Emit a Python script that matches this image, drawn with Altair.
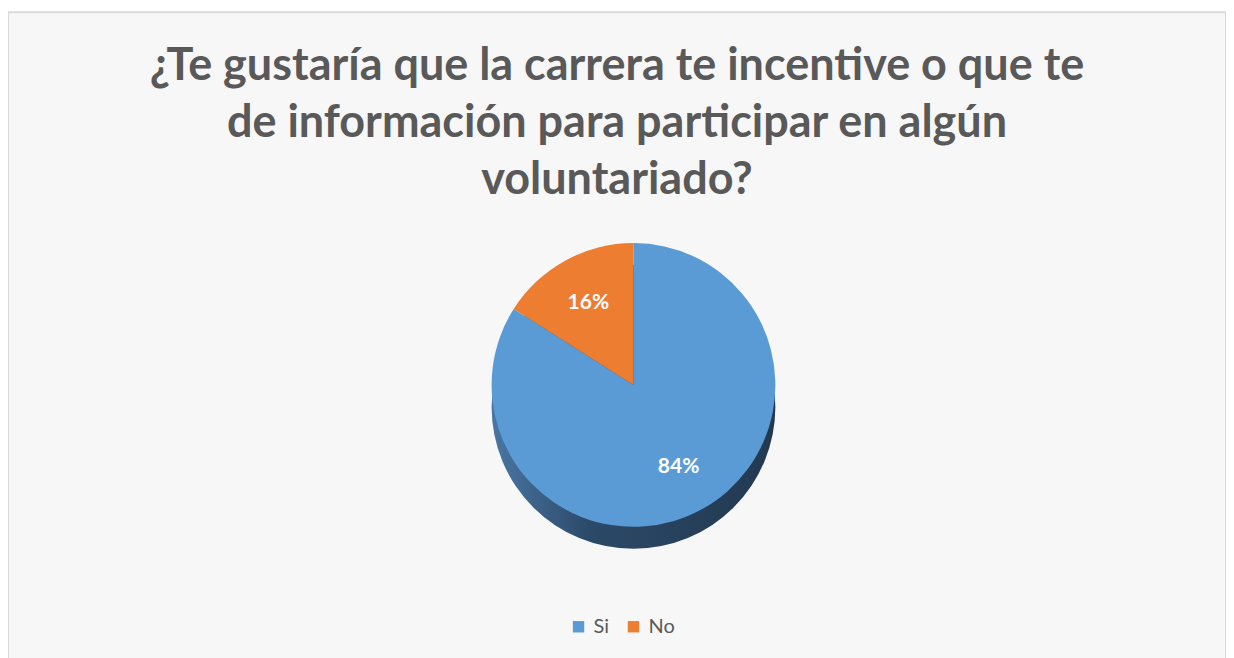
import altair as alt
import pandas as pd

categories = ["Si", "No"]
values = [84, 16]
labels = ["84%", "16%"]
colors = ["#5b9bd5", "#ed7d31"]
title_lines = [
    "¿Te gustaría que la carrera te incentive o que te",
    "de información para participar en algún",
    "voluntariado?",
]

df = pd.DataFrame({"cat": categories, "val": values, "label": labels,
                   "order": list(range(len(categories)))})

base = alt.Chart(df)
CX, CY, R, DEPTH = 626, 373, 142, 22

side_grad = alt.Gradient(
    gradient="linear",
    stops=[alt.GradientStop(color="#4a76a4", offset=0),
           alt.GradientStop(color="#2b4968", offset=0.35),
           alt.GradientStop(color="#223950", offset=1)],
    x1=0, x2=1, y1=0, y2=0,
)

side = base.transform_aggregate(total="sum(val)").mark_arc(
    outerRadius=R, color=side_grad
).encode(
    theta=alt.Theta("total:Q"),
    x=alt.value(CX), y=alt.value(CY + DEPTH),
)

pie = base.mark_arc(outerRadius=R).encode(
    theta=alt.Theta("val:Q", stack=True),
    order=alt.Order("order:Q"),
    color=alt.Color(
        "cat:N",
        scale=alt.Scale(domain=categories, range=colors),
        legend=alt.Legend(
            title=None, orient="none", legendX=561, legendY=605,
            direction="horizontal", symbolType="square", symbolSize=130,
            labelFontSize=20, labelFont="Lato", labelColor="#595959",
            columnPadding=14, labelOffset=5, symbolStrokeWidth=0, padding=0,
        ),
    ),
    x=alt.value(CX), y=alt.value(CY),
)

text = base.mark_text(
    radius=R * 0.66, fontSize=21, fontWeight="bold", color="white", font="Lato"
).encode(
    theta=alt.Theta("val:Q", stack=True),
    order=alt.Order("order:Q"),
    text="label:N",
    x=alt.value(CX), y=alt.value(CY),
)

chart = alt.layer(side, pie, text).properties(
    width=1219, height=650,
    padding={"left": 0, "top": 4, "right": 0, "bottom": 0},
    autosize=alt.AutoSizeParams(type="none"),
    background="white",
    title=alt.TitleParams(
        text=title_lines, fontSize=45, font="Lato", fontWeight="bold",
        color="#595959", anchor="middle", lineHeight=57, offset=-191,
        baseline="top",
    ),
).configure_view(fill="#f7f7f7", stroke="#d9d9d9", strokeWidth=2)

chart.save("out.html", embed_options={"renderer": "svg", "actions": False})
